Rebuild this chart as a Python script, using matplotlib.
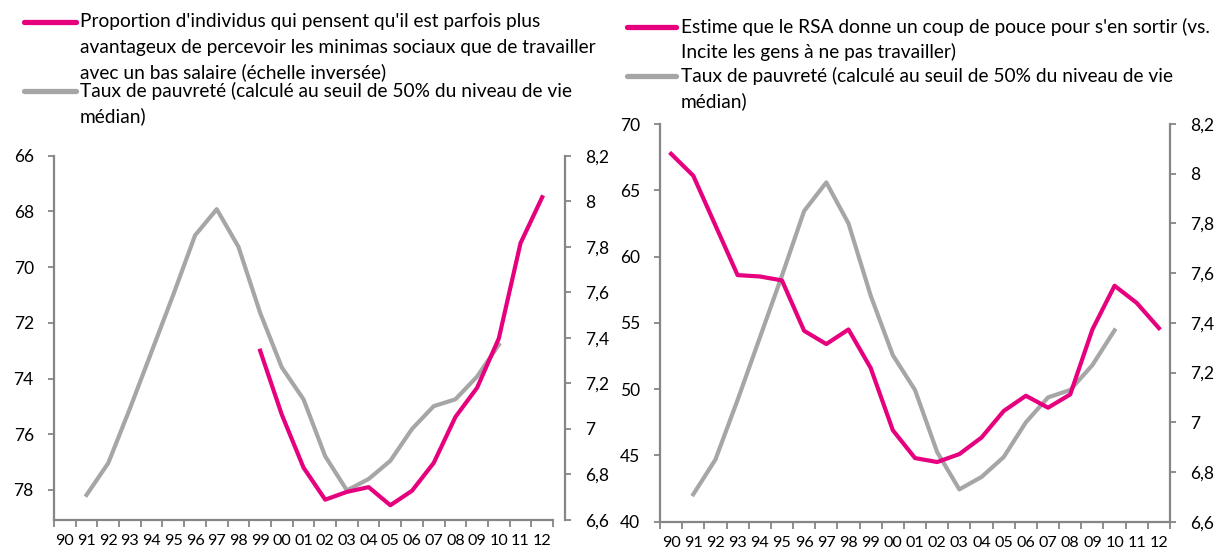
from matplotlib import pyplot as plt
from matplotlib.lines import Line2D
import numpy as np

plt.rcParams['font.family'] = ['Lato', 'DejaVu Sans']

MAGENTA = '#E6007E'
GREY    = '#A6A6A6'
SPINE   = '#868686'

# Data
#----------------------------------------------------
years = ['90', '91', '92', '93', '94', '95', '96', '97', '98', '99', '00', '01',
         '02', '03', '04', '05', '06', '07', '08', '09', '10', '11', '12']

# left panel: minimas sociaux (inverted scale), from 99 to 12
minima_years = years[9:]
minima_vals  = [73.0, 75.3, 77.2, 78.35, 78.07, 77.9, 78.55, 78.03, 77.03,
                75.38, 74.33, 72.56, 69.14, 67.49]

# right panel: RSA coup de pouce, from 90 to 12
rsa_years = years
rsa_vals  = [67.75, 66.1, 62.35, 58.6, 58.5, 58.2, 54.4, 53.4, 54.5, 51.6,
             46.9, 44.8, 44.5, 45.1, 46.35, 48.35, 49.5, 48.6, 49.6, 54.5,
             57.8, 56.5, 54.6]

# taux de pauvrete (both panels), from 91 to 10
pauv_years = years[1:21]
pauv_vals  = [6.71, 6.85, 7.09, 7.34, 7.59, 7.85, 7.965, 7.80, 7.51, 7.27,
              7.13, 6.88, 6.73, 6.78, 6.86, 7.0, 7.10, 7.13, 7.23, 7.37]

pauv_ticks  = [6.6, 6.8, 7.0, 7.2, 7.4, 7.6, 7.8, 8.0, 8.2]
pauv_labels = ['6,6', '6,8', '7', '7,2', '7,4', '7,6', '7,8', '8', '8,2']

legend_left = [
    (MAGENTA, ["Proportion d'individus qui pensent qu'il est parfois plus",
               "avantageux de percevoir les minimas sociaux que de travailler",
               "avec un bas salaire (échelle inversée)"]),
    (GREY,    ["Taux de pauvreté (calculé au seuil de 50% du niveau de vie",
               "médian)"]),
]
legend_right = [
    (MAGENTA, ["Estime que le RSA donne un coup de pouce pour s'en sortir (vs.",
               "Incite les gens à ne pas travailler)"]),
    (GREY,    ["Taux de pauvreté (calculé au seuil de 50% du niveau de vie",
               "médian)"]),
]

W, H = 1218, 550
LW = 3.0


def style_axes(ax, ax2, xmax):
    ''' Excel-like spines and ticks '''
    for a in (ax, ax2):
        a.spines['top'].set_visible(False)
        for s in ('left', 'right', 'bottom'):
            a.spines[s].set_color(SPINE)
            a.spines[s].set_linewidth(1.6)
        a.tick_params(axis='y', colors=SPINE, labelcolor='k', labelsize=12.5,
                      length=4.5, width=1.3, pad=10)
    ax.spines['right'].set_visible(False)
    ax2.spines['left'].set_visible(False)
    ax2.spines['bottom'].set_visible(False)
    ax.spines['bottom'].set_bounds(-0.5, len(years) - 0.5)

    ax.set_xlim(-0.5, xmax)
    ax.set_xticks(range(len(years)))
    ax.set_xticklabels(years)
    ax.set_xticks(np.arange(len(years) + 1) - 0.5, minor=True)
    ax.tick_params(axis='x', which='major', length=0, labelsize=11.6, pad=10)
    ax.tick_params(axis='x', which='minor', length=5, width=1.3, colors=SPINE)
    ax2.set_ylim(6.6, 8.2)
    ax2.set_yticks(pauv_ticks)
    ax2.set_yticklabels(pauv_labels)


def draw_legend(fig, entries, x_line, x_text, y_first, gaps):
    ''' handle on the first line of each (wrapped) label '''
    y = y_first
    for (color, lines), gap in zip(entries, gaps):
        yf = 1 - y / H
        fig.add_artist(Line2D([x_line[0] / W, x_line[1] / W], [yf, yf],
                              color=color, lw=3.8, solid_capstyle='round'))
        for k, txt in enumerate(lines):
            fig.text(x_text / W, 1 - (y + 25 * k) / H, txt, fontsize=13.8,
                     va='center', ha='left')
        y += 25 * (len(lines) - 1) + gap


def main():
    fig = plt.figure(figsize=(W / 100, H / 100), dpi=100)

    idx = {y: i for i, y in enumerate(years)}

    # Left panel
    #----------------------------------------------------
    ax = fig.add_axes([54 / W, 30 / H, 511 / W, 364.3 / H])
    ax2 = ax.twinx()
    ax.plot([idx[y] for y in minima_years], minima_vals, color=MAGENTA,
            lw=LW, zorder=3)
    ax2.plot([idx[y] for y in pauv_years], pauv_vals, color=GREY, lw=LW)
    ax.set_zorder(ax2.get_zorder() + 1)
    ax.patch.set_visible(False)
    ax.set_ylim(79.08, 66)
    ax.set_yticks(range(66, 80, 2))
    style_axes(ax, ax2, 23.05)

    # Right panel
    #----------------------------------------------------
    bx = fig.add_axes([660 / W, 28.3 / H, 510 / W, 397.7 / H])
    bx2 = bx.twinx()
    bx.plot([idx[y] for y in rsa_years], rsa_vals, color=MAGENTA, lw=LW)
    bx2.plot([idx[y] for y in pauv_years], pauv_vals, color=GREY, lw=LW)
    bx.set_zorder(bx2.get_zorder() + 1)
    bx.patch.set_visible(False)
    bx.set_ylim(40, 70)
    bx.set_yticks(range(40, 75, 5))
    style_axes(bx, bx2, 22.5)

    # Legends
    #----------------------------------------------------
    draw_legend(fig, legend_left, (24, 76), 80, 22, (19, 0))
    draw_legend(fig, legend_right, (627, 676), 681, 27, (24, 0))

    fig.savefig('out.png', dpi=100)
    plt.close(fig)


if __name__ == '__main__': main()
